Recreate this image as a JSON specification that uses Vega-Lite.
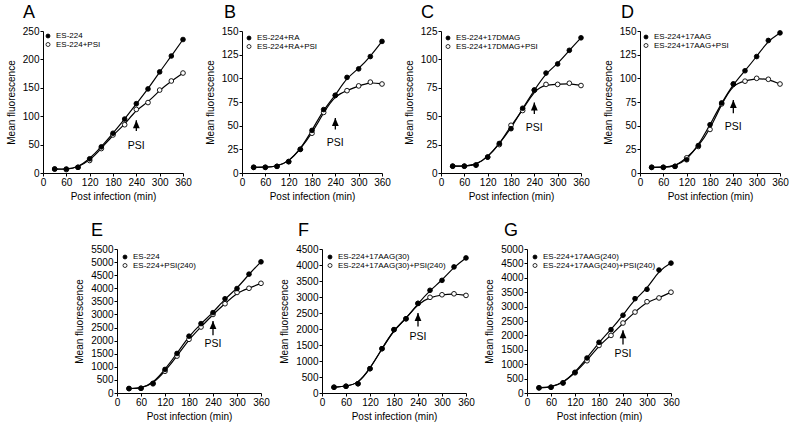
{
"$schema": "https://vega.github.io/schema/vega-lite/v6.json",
"padding": {"left": 6, "top": 4, "right": 4, "bottom": 4},
"background": "white",
"datasets": {
"pts": [
{"p":"A","s":"ES-224+PSI","t":30,"v":7},{"p":"A","s":"ES-224+PSI","t":60,"v":6},{"p":"A","s":"ES-224+PSI","t":90,"v":10},{"p":"A","s":"ES-224+PSI","t":120,"v":22},{"p":"A","s":"ES-224+PSI","t":150,"v":43},{"p":"A","s":"ES-224+PSI","t":180,"v":67},{"p":"A","s":"ES-224+PSI","t":210,"v":85},{"p":"A","s":"ES-224+PSI","t":240,"v":112},{"p":"A","s":"ES-224+PSI","t":270,"v":124},{"p":"A","s":"ES-224+PSI","t":300,"v":146},{"p":"A","s":"ES-224+PSI","t":330,"v":162},{"p":"A","s":"ES-224+PSI","t":360,"v":176},
{"p":"A","s":"ES-224","t":30,"v":7},{"p":"A","s":"ES-224","t":60,"v":7},{"p":"A","s":"ES-224","t":90,"v":10},{"p":"A","s":"ES-224","t":120,"v":25},{"p":"A","s":"ES-224","t":150,"v":46},{"p":"A","s":"ES-224","t":180,"v":70},{"p":"A","s":"ES-224","t":210,"v":95},{"p":"A","s":"ES-224","t":240,"v":122},{"p":"A","s":"ES-224","t":270,"v":148},{"p":"A","s":"ES-224","t":300,"v":178},{"p":"A","s":"ES-224","t":330,"v":206},{"p":"A","s":"ES-224","t":360,"v":235},
{"p":"B","s":"ES-224+RA+PSI","t":30,"v":6},{"p":"B","s":"ES-224+RA+PSI","t":60,"v":6},{"p":"B","s":"ES-224+RA+PSI","t":90,"v":7},{"p":"B","s":"ES-224+RA+PSI","t":120,"v":12},{"p":"B","s":"ES-224+RA+PSI","t":150,"v":25},{"p":"B","s":"ES-224+RA+PSI","t":180,"v":42},{"p":"B","s":"ES-224+RA+PSI","t":210,"v":64},{"p":"B","s":"ES-224+RA+PSI","t":240,"v":82},{"p":"B","s":"ES-224+RA+PSI","t":270,"v":87},{"p":"B","s":"ES-224+RA+PSI","t":300,"v":92},{"p":"B","s":"ES-224+RA+PSI","t":330,"v":96},{"p":"B","s":"ES-224+RA+PSI","t":360,"v":94},
{"p":"B","s":"ES-224+RA","t":30,"v":6},{"p":"B","s":"ES-224+RA","t":60,"v":6},{"p":"B","s":"ES-224+RA","t":90,"v":7},{"p":"B","s":"ES-224+RA","t":120,"v":12},{"p":"B","s":"ES-224+RA","t":150,"v":25},{"p":"B","s":"ES-224+RA","t":180,"v":45},{"p":"B","s":"ES-224+RA","t":210,"v":67},{"p":"B","s":"ES-224+RA","t":240,"v":82},{"p":"B","s":"ES-224+RA","t":270,"v":101},{"p":"B","s":"ES-224+RA","t":300,"v":110},{"p":"B","s":"ES-224+RA","t":330,"v":123},{"p":"B","s":"ES-224+RA","t":360,"v":139},
{"p":"C","s":"ES-224+17DMAG+PSI","t":30,"v":6},{"p":"C","s":"ES-224+17DMAG+PSI","t":60,"v":6},{"p":"C","s":"ES-224+17DMAG+PSI","t":90,"v":7},{"p":"C","s":"ES-224+17DMAG+PSI","t":120,"v":14},{"p":"C","s":"ES-224+17DMAG+PSI","t":150,"v":25},{"p":"C","s":"ES-224+17DMAG+PSI","t":180,"v":42},{"p":"C","s":"ES-224+17DMAG+PSI","t":210,"v":55},{"p":"C","s":"ES-224+17DMAG+PSI","t":240,"v":73},{"p":"C","s":"ES-224+17DMAG+PSI","t":270,"v":78},{"p":"C","s":"ES-224+17DMAG+PSI","t":300,"v":78},{"p":"C","s":"ES-224+17DMAG+PSI","t":330,"v":79},{"p":"C","s":"ES-224+17DMAG+PSI","t":360,"v":77},
{"p":"C","s":"ES-224+17DMAG","t":30,"v":6},{"p":"C","s":"ES-224+17DMAG","t":60,"v":6},{"p":"C","s":"ES-224+17DMAG","t":90,"v":7},{"p":"C","s":"ES-224+17DMAG","t":120,"v":14},{"p":"C","s":"ES-224+17DMAG","t":150,"v":26},{"p":"C","s":"ES-224+17DMAG","t":180,"v":39},{"p":"C","s":"ES-224+17DMAG","t":210,"v":57},{"p":"C","s":"ES-224+17DMAG","t":240,"v":73},{"p":"C","s":"ES-224+17DMAG","t":270,"v":88},{"p":"C","s":"ES-224+17DMAG","t":300,"v":96},{"p":"C","s":"ES-224+17DMAG","t":330,"v":108},{"p":"C","s":"ES-224+17DMAG","t":360,"v":119},
{"p":"D","s":"ES-224+17AAG+PSI","t":30,"v":6},{"p":"D","s":"ES-224+17AAG+PSI","t":60,"v":6},{"p":"D","s":"ES-224+17AAG+PSI","t":90,"v":7},{"p":"D","s":"ES-224+17AAG+PSI","t":120,"v":16},{"p":"D","s":"ES-224+17AAG+PSI","t":150,"v":28},{"p":"D","s":"ES-224+17AAG+PSI","t":180,"v":46},{"p":"D","s":"ES-224+17AAG+PSI","t":210,"v":73},{"p":"D","s":"ES-224+17AAG+PSI","t":240,"v":94},{"p":"D","s":"ES-224+17AAG+PSI","t":270,"v":97},{"p":"D","s":"ES-224+17AAG+PSI","t":300,"v":100},{"p":"D","s":"ES-224+17AAG+PSI","t":330,"v":99},{"p":"D","s":"ES-224+17AAG+PSI","t":360,"v":94},
{"p":"D","s":"ES-224+17AAG","t":30,"v":6},{"p":"D","s":"ES-224+17AAG","t":60,"v":6},{"p":"D","s":"ES-224+17AAG","t":90,"v":7},{"p":"D","s":"ES-224+17AAG","t":120,"v":14},{"p":"D","s":"ES-224+17AAG","t":150,"v":29},{"p":"D","s":"ES-224+17AAG","t":180,"v":51},{"p":"D","s":"ES-224+17AAG","t":210,"v":74},{"p":"D","s":"ES-224+17AAG","t":240,"v":94},{"p":"D","s":"ES-224+17AAG","t":270,"v":108},{"p":"D","s":"ES-224+17AAG","t":300,"v":123},{"p":"D","s":"ES-224+17AAG","t":330,"v":140},{"p":"D","s":"ES-224+17AAG","t":360,"v":148},
{"p":"E","s":"ES-224+PSI(240)","t":30,"v":170},{"p":"E","s":"ES-224+PSI(240)","t":60,"v":180},{"p":"E","s":"ES-224+PSI(240)","t":90,"v":350},{"p":"E","s":"ES-224+PSI(240)","t":120,"v":830},{"p":"E","s":"ES-224+PSI(240)","t":150,"v":1410},{"p":"E","s":"ES-224+PSI(240)","t":180,"v":2050},{"p":"E","s":"ES-224+PSI(240)","t":210,"v":2520},{"p":"E","s":"ES-224+PSI(240)","t":240,"v":3000},{"p":"E","s":"ES-224+PSI(240)","t":270,"v":3410},{"p":"E","s":"ES-224+PSI(240)","t":300,"v":3840},{"p":"E","s":"ES-224+PSI(240)","t":330,"v":4000},{"p":"E","s":"ES-224+PSI(240)","t":360,"v":4190},
{"p":"E","s":"ES-224","t":30,"v":170},{"p":"E","s":"ES-224","t":60,"v":180},{"p":"E","s":"ES-224","t":90,"v":370},{"p":"E","s":"ES-224","t":120,"v":900},{"p":"E","s":"ES-224","t":150,"v":1510},{"p":"E","s":"ES-224","t":180,"v":2170},{"p":"E","s":"ES-224","t":210,"v":2650},{"p":"E","s":"ES-224","t":240,"v":3070},{"p":"E","s":"ES-224","t":270,"v":3600},{"p":"E","s":"ES-224","t":300,"v":3990},{"p":"E","s":"ES-224","t":330,"v":4540},{"p":"E","s":"ES-224","t":360,"v":5010},
{"p":"F","s":"ES-224+17AAG(30)+PSI(240)","t":30,"v":180},{"p":"F","s":"ES-224+17AAG(30)+PSI(240)","t":60,"v":210},{"p":"F","s":"ES-224+17AAG(30)+PSI(240)","t":90,"v":290},{"p":"F","s":"ES-224+17AAG(30)+PSI(240)","t":120,"v":760},{"p":"F","s":"ES-224+17AAG(30)+PSI(240)","t":150,"v":1385},{"p":"F","s":"ES-224+17AAG(30)+PSI(240)","t":180,"v":1980},{"p":"F","s":"ES-224+17AAG(30)+PSI(240)","t":210,"v":2320},{"p":"F","s":"ES-224+17AAG(30)+PSI(240)","t":240,"v":2800},{"p":"F","s":"ES-224+17AAG(30)+PSI(240)","t":270,"v":2990},{"p":"F","s":"ES-224+17AAG(30)+PSI(240)","t":300,"v":3070},{"p":"F","s":"ES-224+17AAG(30)+PSI(240)","t":330,"v":3100},{"p":"F","s":"ES-224+17AAG(30)+PSI(240)","t":360,"v":3050},
{"p":"F","s":"ES-224+17AAG(30)","t":30,"v":180},{"p":"F","s":"ES-224+17AAG(30)","t":60,"v":210},{"p":"F","s":"ES-224+17AAG(30)","t":90,"v":290},{"p":"F","s":"ES-224+17AAG(30)","t":120,"v":760},{"p":"F","s":"ES-224+17AAG(30)","t":150,"v":1385},{"p":"F","s":"ES-224+17AAG(30)","t":180,"v":1980},{"p":"F","s":"ES-224+17AAG(30)","t":210,"v":2320},{"p":"F","s":"ES-224+17AAG(30)","t":240,"v":2800},{"p":"F","s":"ES-224+17AAG(30)","t":270,"v":3210},{"p":"F","s":"ES-224+17AAG(30)","t":300,"v":3520},{"p":"F","s":"ES-224+17AAG(30)","t":330,"v":3940},{"p":"F","s":"ES-224+17AAG(30)","t":360,"v":4220},
{"p":"G","s":"ES-224+17AAG(240)+PSI(240)","t":30,"v":180},{"p":"G","s":"ES-224+17AAG(240)+PSI(240)","t":60,"v":200},{"p":"G","s":"ES-224+17AAG(240)+PSI(240)","t":90,"v":350},{"p":"G","s":"ES-224+17AAG(240)+PSI(240)","t":120,"v":700},{"p":"G","s":"ES-224+17AAG(240)+PSI(240)","t":150,"v":1120},{"p":"G","s":"ES-224+17AAG(240)+PSI(240)","t":180,"v":1650},{"p":"G","s":"ES-224+17AAG(240)+PSI(240)","t":210,"v":2000},{"p":"G","s":"ES-224+17AAG(240)+PSI(240)","t":240,"v":2430},{"p":"G","s":"ES-224+17AAG(240)+PSI(240)","t":270,"v":2810},{"p":"G","s":"ES-224+17AAG(240)+PSI(240)","t":300,"v":3170},{"p":"G","s":"ES-224+17AAG(240)+PSI(240)","t":330,"v":3300},{"p":"G","s":"ES-224+17AAG(240)+PSI(240)","t":360,"v":3500},
{"p":"G","s":"ES-224+17AAG(240)","t":30,"v":180},{"p":"G","s":"ES-224+17AAG(240)","t":60,"v":200},{"p":"G","s":"ES-224+17AAG(240)","t":90,"v":350},{"p":"G","s":"ES-224+17AAG(240)","t":120,"v":720},{"p":"G","s":"ES-224+17AAG(240)","t":150,"v":1215},{"p":"G","s":"ES-224+17AAG(240)","t":180,"v":1760},{"p":"G","s":"ES-224+17AAG(240)","t":210,"v":2200},{"p":"G","s":"ES-224+17AAG(240)","t":240,"v":2700},{"p":"G","s":"ES-224+17AAG(240)","t":270,"v":3275},{"p":"G","s":"ES-224+17AAG(240)","t":300,"v":3600},{"p":"G","s":"ES-224+17AAG(240)","t":330,"v":4270},{"p":"G","s":"ES-224+17AAG(240)","t":360,"v":4510}
],
"arr": [
{"p":"A","t":240,"v":93,"tail":74,"ty":57},
{"p":"B","t":240,"v":58,"tail":46,"ty":37},
{"p":"C","t":240,"v":62,"tail":52,"ty":44},
{"p":"D","t":240,"v":77,"tail":63,"ty":54},
{"p":"E","t":240,"v":2750,"tail":2210,"ty":2050},
{"p":"F","t":240,"v":2500,"tail":2080,"ty":1900},
{"p":"G","t":240,"v":2180,"tail":1680,"ty":1540}
]
},
"spacing": 21,
"resolve": {"scale": {"fill": "independent", "x": "independent", "y": "independent"}, "legend": {"fill": "independent"}},
"vconcat": [
{"hconcat": [
{"title": {"text": "A", "dx": -20}, "width": 140, "height": 142, "data": {"name": "pts"},
 "encoding": {"x": {"field": "t", "type": "quantitative", "scale": {"domain": [0, 360], "nice": false}, "axis": {"values": [0,60,120,180,240,300,360], "title": "Post infection (min)"}},
  "y": {"field": "v", "type": "quantitative", "scale": {"domain": [0, 250], "nice": false}, "axis": {"values": [0,50,100,150,200,250], "format": "d", "title": "Mean fluorescence"}}},
 "layer": [
  {"transform": [{"filter": "datum.p === 'A'"}], "mark": {"type": "line", "interpolate": "basis", "color": "black", "strokeWidth": 1.2}, "encoding": {"detail": {"field": "s"}}},
  {"transform": [{"filter": "datum.p === 'A'"}], "mark": {"type": "circle", "size": 22, "stroke": "black", "strokeWidth": 0.9, "opacity": 1}, "encoding": {"fill": {"field": "s", "type": "nominal", "scale": {"domain": ["ES-224", "ES-224+PSI"], "range": ["black", "white"]}, "legend": {"title": null, "offset": 1}}}},
  {"data": {"name": "arr"}, "transform": [{"filter": "datum.p === 'A'"}], "mark": {"type": "rule", "color": "black", "strokeWidth": 1.3}, "encoding": {"y": {"field": "tail", "type": "quantitative"}, "y2": {"field": "v"}}},
  {"data": {"name": "arr"}, "transform": [{"filter": "datum.p === 'A'"}], "mark": {"type": "point", "shape": "M0,0L0.85,2L-0.85,2Z", "size": 64, "filled": true, "color": "black", "opacity": 1}},
  {"data": {"name": "arr"}, "transform": [{"filter": "datum.p === 'A'"}], "mark": {"type": "text", "text": "PSI", "baseline": "top", "fontSize": 10.5, "color": "black"}, "encoding": {"y": {"field": "ty", "type": "quantitative"}}}
 ]},
{"title": {"text": "B", "dx": -18}, "width": 140, "height": 142, "data": {"name": "pts"},
 "encoding": {"x": {"field": "t", "type": "quantitative", "scale": {"domain": [0, 360], "nice": false}, "axis": {"values": [0,60,120,180,240,300,360], "title": "Post infection (min)"}},
  "y": {"field": "v", "type": "quantitative", "scale": {"domain": [0, 150], "nice": false}, "axis": {"values": [0,25,50,75,100,125,150], "format": "d", "title": "Mean fluorescence"}}},
 "layer": [
  {"transform": [{"filter": "datum.p === 'B'"}], "mark": {"type": "line", "interpolate": "basis", "color": "black", "strokeWidth": 1.2}, "encoding": {"detail": {"field": "s"}}},
  {"transform": [{"filter": "datum.p === 'B'"}], "mark": {"type": "circle", "size": 22, "stroke": "black", "strokeWidth": 0.9, "opacity": 1}, "encoding": {"fill": {"field": "s", "type": "nominal", "scale": {"domain": ["ES-224+RA", "ES-224+RA+PSI"], "range": ["black", "white"]}, "legend": {"title": null, "offset": 3}}}},
  {"data": {"name": "arr"}, "transform": [{"filter": "datum.p === 'B'"}], "mark": {"type": "rule", "color": "black", "strokeWidth": 1.3}, "encoding": {"y": {"field": "tail", "type": "quantitative"}, "y2": {"field": "v"}}},
  {"data": {"name": "arr"}, "transform": [{"filter": "datum.p === 'B'"}], "mark": {"type": "point", "shape": "M0,0L0.85,2L-0.85,2Z", "size": 64, "filled": true, "color": "black", "opacity": 1}},
  {"data": {"name": "arr"}, "transform": [{"filter": "datum.p === 'B'"}], "mark": {"type": "text", "text": "PSI", "baseline": "top", "fontSize": 10.5, "color": "black"}, "encoding": {"y": {"field": "ty", "type": "quantitative"}}}
 ]},
{"title": {"text": "C", "dx": -20}, "width": 140, "height": 142, "data": {"name": "pts"},
 "encoding": {"x": {"field": "t", "type": "quantitative", "scale": {"domain": [0, 360], "nice": false}, "axis": {"values": [0,60,120,180,240,300,360], "title": "Post infection (min)"}},
  "y": {"field": "v", "type": "quantitative", "scale": {"domain": [0, 125], "nice": false}, "axis": {"values": [0,25,50,75,100,125], "format": "d", "title": "Mean fluorescence"}}},
 "layer": [
  {"transform": [{"filter": "datum.p === 'C'"}], "mark": {"type": "line", "interpolate": "basis", "color": "black", "strokeWidth": 1.2}, "encoding": {"detail": {"field": "s"}}},
  {"transform": [{"filter": "datum.p === 'C'"}], "mark": {"type": "circle", "size": 22, "stroke": "black", "strokeWidth": 0.9, "opacity": 1}, "encoding": {"fill": {"field": "s", "type": "nominal", "scale": {"domain": ["ES-224+17DMAG", "ES-224+17DMAG+PSI"], "range": ["black", "white"]}, "legend": {"title": null, "offset": 3}}}},
  {"data": {"name": "arr"}, "transform": [{"filter": "datum.p === 'C'"}], "mark": {"type": "rule", "color": "black", "strokeWidth": 1.3}, "encoding": {"y": {"field": "tail", "type": "quantitative"}, "y2": {"field": "v"}}},
  {"data": {"name": "arr"}, "transform": [{"filter": "datum.p === 'C'"}], "mark": {"type": "point", "shape": "M0,0L0.85,2L-0.85,2Z", "size": 64, "filled": true, "color": "black", "opacity": 1}},
  {"data": {"name": "arr"}, "transform": [{"filter": "datum.p === 'C'"}], "mark": {"type": "text", "text": "PSI", "baseline": "top", "fontSize": 10.5, "color": "black"}, "encoding": {"y": {"field": "ty", "type": "quantitative"}}}
 ]},
{"title": {"text": "D", "dx": -19}, "width": 140, "height": 142, "data": {"name": "pts"},
 "encoding": {"x": {"field": "t", "type": "quantitative", "scale": {"domain": [0, 360], "nice": false}, "axis": {"values": [0,60,120,180,240,300,360], "title": "Post infection (min)"}},
  "y": {"field": "v", "type": "quantitative", "scale": {"domain": [0, 150], "nice": false}, "axis": {"values": [0,25,50,75,100,125,150], "format": "d", "title": "Mean fluorescence"}}},
 "layer": [
  {"transform": [{"filter": "datum.p === 'D'"}], "mark": {"type": "line", "interpolate": "basis", "color": "black", "strokeWidth": 1.2}, "encoding": {"detail": {"field": "s"}}},
  {"transform": [{"filter": "datum.p === 'D'"}], "mark": {"type": "circle", "size": 22, "stroke": "black", "strokeWidth": 0.9, "opacity": 1}, "encoding": {"fill": {"field": "s", "type": "nominal", "scale": {"domain": ["ES-224+17AAG", "ES-224+17AAG+PSI"], "range": ["black", "white"]}, "legend": {"title": null, "offset": 2}}}},
  {"data": {"name": "arr"}, "transform": [{"filter": "datum.p === 'D'"}], "mark": {"type": "rule", "color": "black", "strokeWidth": 1.3}, "encoding": {"y": {"field": "tail", "type": "quantitative"}, "y2": {"field": "v"}}},
  {"data": {"name": "arr"}, "transform": [{"filter": "datum.p === 'D'"}], "mark": {"type": "point", "shape": "M0,0L0.85,2L-0.85,2Z", "size": 64, "filled": true, "color": "black", "opacity": 1}},
  {"data": {"name": "arr"}, "transform": [{"filter": "datum.p === 'D'"}], "mark": {"type": "text", "text": "PSI", "baseline": "top", "fontSize": 10.5, "color": "black"}, "encoding": {"y": {"field": "ty", "type": "quantitative"}}}
 ]}
], "spacing": 13, "resolve": {"scale": {"fill": "independent", "x": "independent", "y": "independent"}, "legend": {"fill": "independent"}}},
{"hconcat": [
{"width": 22, "height": 144, "data": {"values": [{}]}, "mark": {"type": "text", "text": ""}},
{"title": {"text": "E", "dx": -26}, "width": 144, "height": 144, "data": {"name": "pts"},
 "encoding": {"x": {"field": "t", "type": "quantitative", "scale": {"domain": [0, 360], "nice": false}, "axis": {"values": [0,60,120,180,240,300,360], "title": "Post infection (min)"}},
  "y": {"field": "v", "type": "quantitative", "scale": {"domain": [0, 5500], "nice": false}, "axis": {"values": [0,500,1000,1500,2000,2500,3000,3500,4000,4500,5000,5500], "format": "d", "title": "Mean fluorescence"}}},
 "layer": [
  {"transform": [{"filter": "datum.p === 'E'"}], "mark": {"type": "line", "interpolate": "basis", "color": "black", "strokeWidth": 1.2}, "encoding": {"detail": {"field": "s"}}},
  {"transform": [{"filter": "datum.p === 'E'"}], "mark": {"type": "circle", "size": 22, "stroke": "black", "strokeWidth": 0.9, "opacity": 1}, "encoding": {"fill": {"field": "s", "type": "nominal", "scale": {"domain": ["ES-224", "ES-224+PSI(240)"], "range": ["black", "white"]}, "legend": {"title": null, "offset": 4}}}},
  {"data": {"name": "arr"}, "transform": [{"filter": "datum.p === 'E'"}], "mark": {"type": "rule", "color": "black", "strokeWidth": 1.3}, "encoding": {"y": {"field": "tail", "type": "quantitative"}, "y2": {"field": "v"}}},
  {"data": {"name": "arr"}, "transform": [{"filter": "datum.p === 'E'"}], "mark": {"type": "point", "shape": "M0,0L0.85,2L-0.85,2Z", "size": 64, "filled": true, "color": "black", "opacity": 1}},
  {"data": {"name": "arr"}, "transform": [{"filter": "datum.p === 'E'"}], "mark": {"type": "text", "text": "PSI", "baseline": "top", "fontSize": 10.5, "color": "black"}, "encoding": {"y": {"field": "ty", "type": "quantitative"}}}
 ]},
{"title": {"text": "F", "dx": -24}, "width": 144, "height": 144, "data": {"name": "pts"},
 "encoding": {"x": {"field": "t", "type": "quantitative", "scale": {"domain": [0, 360], "nice": false}, "axis": {"values": [0,60,120,180,240,300,360], "title": "Post infection (min)"}},
  "y": {"field": "v", "type": "quantitative", "scale": {"domain": [0, 4500], "nice": false}, "axis": {"values": [0,500,1000,1500,2000,2500,3000,3500,4000,4500], "format": "d", "title": "Mean fluorescence"}}},
 "layer": [
  {"transform": [{"filter": "datum.p === 'F'"}], "mark": {"type": "line", "interpolate": "basis", "color": "black", "strokeWidth": 1.2}, "encoding": {"detail": {"field": "s"}}},
  {"transform": [{"filter": "datum.p === 'F'"}], "mark": {"type": "circle", "size": 22, "stroke": "black", "strokeWidth": 0.9, "opacity": 1}, "encoding": {"fill": {"field": "s", "type": "nominal", "scale": {"domain": ["ES-224+17AAG(30)", "ES-224+17AAG(30)+PSI(240)"], "range": ["black", "white"]}, "legend": {"title": null, "offset": 4}}}},
  {"data": {"name": "arr"}, "transform": [{"filter": "datum.p === 'F'"}], "mark": {"type": "rule", "color": "black", "strokeWidth": 1.3}, "encoding": {"y": {"field": "tail", "type": "quantitative"}, "y2": {"field": "v"}}},
  {"data": {"name": "arr"}, "transform": [{"filter": "datum.p === 'F'"}], "mark": {"type": "point", "shape": "M0,0L0.85,2L-0.85,2Z", "size": 64, "filled": true, "color": "black", "opacity": 1}},
  {"data": {"name": "arr"}, "transform": [{"filter": "datum.p === 'F'"}], "mark": {"type": "text", "text": "PSI", "baseline": "top", "fontSize": 10.5, "color": "black"}, "encoding": {"y": {"field": "ty", "type": "quantitative"}}}
 ]},
{"title": {"text": "G", "dx": -23}, "width": 144, "height": 144, "data": {"name": "pts"},
 "encoding": {"x": {"field": "t", "type": "quantitative", "scale": {"domain": [0, 360], "nice": false}, "axis": {"values": [0,60,120,180,240,300,360], "title": "Post infection (min)"}},
  "y": {"field": "v", "type": "quantitative", "scale": {"domain": [0, 5000], "nice": false}, "axis": {"values": [0,500,1000,1500,2000,2500,3000,3500,4000,4500,5000], "format": "d", "title": "Mean fluorescence"}}},
 "layer": [
  {"transform": [{"filter": "datum.p === 'G'"}], "mark": {"type": "line", "interpolate": "basis", "color": "black", "strokeWidth": 1.2}, "encoding": {"detail": {"field": "s"}}},
  {"transform": [{"filter": "datum.p === 'G'"}], "mark": {"type": "circle", "size": 22, "stroke": "black", "strokeWidth": 0.9, "opacity": 1}, "encoding": {"fill": {"field": "s", "type": "nominal", "scale": {"domain": ["ES-224+17AAG(240)", "ES-224+17AAG(240)+PSI(240)"], "range": ["black", "white"]}, "legend": {"title": null, "offset": 4}}}},
  {"data": {"name": "arr"}, "transform": [{"filter": "datum.p === 'G'"}], "mark": {"type": "rule", "color": "black", "strokeWidth": 1.3}, "encoding": {"y": {"field": "tail", "type": "quantitative"}, "y2": {"field": "v"}}},
  {"data": {"name": "arr"}, "transform": [{"filter": "datum.p === 'G'"}], "mark": {"type": "point", "shape": "M0,0L0.85,2L-0.85,2Z", "size": 64, "filled": true, "color": "black", "opacity": 1}},
  {"data": {"name": "arr"}, "transform": [{"filter": "datum.p === 'G'"}], "mark": {"type": "text", "text": "PSI", "baseline": "top", "fontSize": 10.5, "color": "black"}, "encoding": {"y": {"field": "ty", "type": "quantitative"}}}
 ]}
], "spacing": 9, "resolve": {"scale": {"fill": "independent", "x": "independent", "y": "independent"}, "legend": {"fill": "independent"}}}
],
"config": {
 "font": "Liberation Sans",
 "view": {"stroke": null},
 "axis": {"grid": false, "domainColor": "black", "tickColor": "black", "labelColor": "black", "titleColor": "black", "labelFontSize": 10, "titleFontSize": 10, "titleFontWeight": "normal", "tickSize": 3, "labelPadding": 1, "labelOverlap": false, "labelFlush": false, "domainWidth": 1, "tickWidth": 1, "labelFont": "Liberation Sans", "titleFont": "Liberation Sans"},
 "axisX": {"titlePadding": 4},
 "axisY": {"titlePadding": 6},
 "legend": {"orient": "top-left", "padding": 0, "labelFontSize": 8, "symbolSize": 16, "symbolStrokeColor": "black", "symbolStrokeWidth": 0.8, "rowPadding": 0.5, "labelOffset": 4, "labelColor": "black", "labelFont": "Liberation Sans"},
 "title": {"fontSize": 18, "fontWeight": "normal", "anchor": "start", "frame": "group", "color": "black", "offset": 4, "font": "Liberation Sans"}
}
}
